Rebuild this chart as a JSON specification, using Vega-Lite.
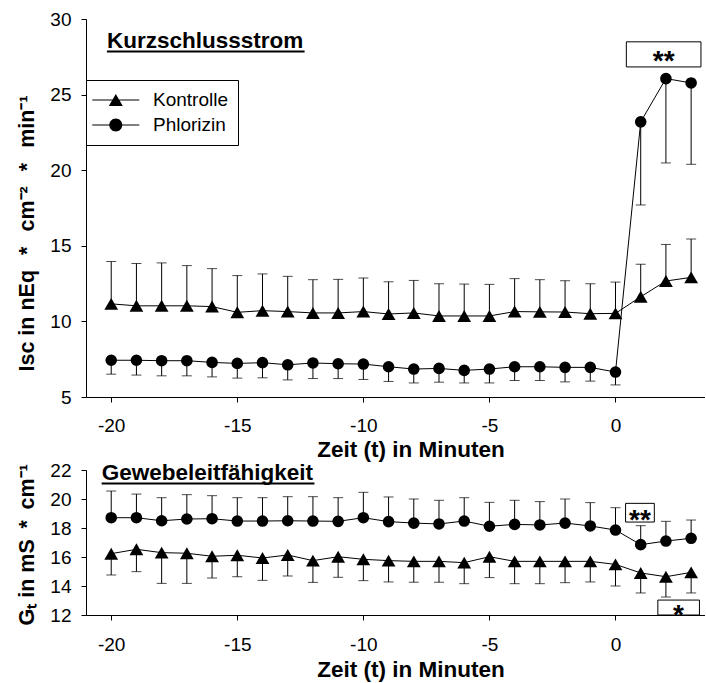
{
  "$schema": "https://vega.github.io/schema/vega-lite/v6.json",
  "background": "white",
  "padding": {"left": 16, "top": 10, "right": 0, "bottom": 0},
  "spacing": 0,
  "datasets": {
    "isc": [
      {"t": -20, "gruppe": "Kontrolle", "mw": 11.16, "ende": 13.96},
      {"t": -19, "gruppe": "Kontrolle", "mw": 11.03, "ende": 13.83},
      {"t": -18, "gruppe": "Kontrolle", "mw": 11.03, "ende": 13.87},
      {"t": -17, "gruppe": "Kontrolle", "mw": 11.03, "ende": 13.69},
      {"t": -16, "gruppe": "Kontrolle", "mw": 10.98, "ende": 13.49},
      {"t": -15, "gruppe": "Kontrolle", "mw": 10.6, "ende": 13.03},
      {"t": -14, "gruppe": "Kontrolle", "mw": 10.71, "ende": 13.14},
      {"t": -13, "gruppe": "Kontrolle", "mw": 10.65, "ende": 12.98},
      {"t": -12, "gruppe": "Kontrolle", "mw": 10.56, "ende": 12.76},
      {"t": -11, "gruppe": "Kontrolle", "mw": 10.56, "ende": 12.78},
      {"t": -10, "gruppe": "Kontrolle", "mw": 10.65, "ende": 12.87},
      {"t": -9, "gruppe": "Kontrolle", "mw": 10.49, "ende": 12.62},
      {"t": -8, "gruppe": "Kontrolle", "mw": 10.56, "ende": 12.71},
      {"t": -7, "gruppe": "Kontrolle", "mw": 10.36, "ende": 12.49},
      {"t": -6, "gruppe": "Kontrolle", "mw": 10.36, "ende": 12.47},
      {"t": -5, "gruppe": "Kontrolle", "mw": 10.36, "ende": 12.45},
      {"t": -4, "gruppe": "Kontrolle", "mw": 10.65, "ende": 12.83},
      {"t": -3, "gruppe": "Kontrolle", "mw": 10.63, "ende": 12.76},
      {"t": -2, "gruppe": "Kontrolle", "mw": 10.62, "ende": 12.69},
      {"t": -1, "gruppe": "Kontrolle", "mw": 10.51, "ende": 12.49},
      {"t": 0, "gruppe": "Kontrolle", "mw": 10.53, "ende": 12.6},
      {"t": 1, "gruppe": "Kontrolle", "mw": 11.63, "ende": 13.78},
      {"t": 2, "gruppe": "Kontrolle", "mw": 12.67, "ende": 15.09},
      {"t": 3, "gruppe": "Kontrolle", "mw": 12.91, "ende": 15.45},
      {"t": -20, "gruppe": "Phlorizin", "mw": 7.43, "ende": 6.51},
      {"t": -19, "gruppe": "Phlorizin", "mw": 7.43, "ende": 6.45},
      {"t": -18, "gruppe": "Phlorizin", "mw": 7.4, "ende": 6.4},
      {"t": -17, "gruppe": "Phlorizin", "mw": 7.4, "ende": 6.4},
      {"t": -16, "gruppe": "Phlorizin", "mw": 7.29, "ende": 6.33},
      {"t": -15, "gruppe": "Phlorizin", "mw": 7.22, "ende": 6.25},
      {"t": -14, "gruppe": "Phlorizin", "mw": 7.27, "ende": 6.27},
      {"t": -13, "gruppe": "Phlorizin", "mw": 7.13, "ende": 6.13},
      {"t": -12, "gruppe": "Phlorizin", "mw": 7.25, "ende": 6.22},
      {"t": -11, "gruppe": "Phlorizin", "mw": 7.2, "ende": 6.22},
      {"t": -10, "gruppe": "Phlorizin", "mw": 7.18, "ende": 6.16},
      {"t": -9, "gruppe": "Phlorizin", "mw": 7.0, "ende": 6.03},
      {"t": -8, "gruppe": "Phlorizin", "mw": 6.85, "ende": 5.93},
      {"t": -7, "gruppe": "Phlorizin", "mw": 6.89, "ende": 5.98},
      {"t": -6, "gruppe": "Phlorizin", "mw": 6.76, "ende": 5.93},
      {"t": -5, "gruppe": "Phlorizin", "mw": 6.85, "ende": 5.93},
      {"t": -4, "gruppe": "Phlorizin", "mw": 7.0, "ende": 6.09},
      {"t": -3, "gruppe": "Phlorizin", "mw": 7.0, "ende": 6.09},
      {"t": -2, "gruppe": "Phlorizin", "mw": 6.96, "ende": 6.0},
      {"t": -1, "gruppe": "Phlorizin", "mw": 6.96, "ende": 6.05},
      {"t": 0, "gruppe": "Phlorizin", "mw": 6.65, "ende": 5.8},
      {"t": 1, "gruppe": "Phlorizin", "mw": 23.2, "ende": 17.7},
      {"t": 2, "gruppe": "Phlorizin", "mw": 26.06, "ende": 20.48},
      {"t": 3, "gruppe": "Phlorizin", "mw": 25.77, "ende": 20.39}
    ],
    "gt": [
      {"t": -20, "gruppe": "Phlorizin", "mw": 18.71, "ende": 20.55},
      {"t": -19, "gruppe": "Phlorizin", "mw": 18.71, "ende": 20.34},
      {"t": -18, "gruppe": "Phlorizin", "mw": 18.5, "ende": 20.09},
      {"t": -17, "gruppe": "Phlorizin", "mw": 18.62, "ende": 20.3},
      {"t": -16, "gruppe": "Phlorizin", "mw": 18.64, "ende": 20.23},
      {"t": -15, "gruppe": "Phlorizin", "mw": 18.48, "ende": 20.09},
      {"t": -14, "gruppe": "Phlorizin", "mw": 18.48, "ende": 20.09},
      {"t": -13, "gruppe": "Phlorizin", "mw": 18.5, "ende": 20.16},
      {"t": -12, "gruppe": "Phlorizin", "mw": 18.48, "ende": 20.16},
      {"t": -11, "gruppe": "Phlorizin", "mw": 18.46, "ende": 20.09},
      {"t": -10, "gruppe": "Phlorizin", "mw": 18.71, "ende": 20.46},
      {"t": -9, "gruppe": "Phlorizin", "mw": 18.44, "ende": 20.14},
      {"t": -8, "gruppe": "Phlorizin", "mw": 18.34, "ende": 20.0},
      {"t": -7, "gruppe": "Phlorizin", "mw": 18.28, "ende": 19.91},
      {"t": -6, "gruppe": "Phlorizin", "mw": 18.48, "ende": 20.09},
      {"t": -5, "gruppe": "Phlorizin", "mw": 18.12, "ende": 19.77},
      {"t": -4, "gruppe": "Phlorizin", "mw": 18.25, "ende": 19.91},
      {"t": -3, "gruppe": "Phlorizin", "mw": 18.21, "ende": 19.82},
      {"t": -2, "gruppe": "Phlorizin", "mw": 18.34, "ende": 20.0},
      {"t": -1, "gruppe": "Phlorizin", "mw": 18.14, "ende": 19.75},
      {"t": 0, "gruppe": "Phlorizin", "mw": 17.86, "ende": 19.4},
      {"t": 1, "gruppe": "Phlorizin", "mw": 16.85, "ende": 18.16},
      {"t": 2, "gruppe": "Phlorizin", "mw": 17.1, "ende": 18.46},
      {"t": 3, "gruppe": "Phlorizin", "mw": 17.29, "ende": 18.55},
      {"t": -20, "gruppe": "Kontrolle", "mw": 16.23, "ende": 14.76},
      {"t": -19, "gruppe": "Kontrolle", "mw": 16.53, "ende": 14.99},
      {"t": -18, "gruppe": "Kontrolle", "mw": 16.3, "ende": 14.18},
      {"t": -17, "gruppe": "Kontrolle", "mw": 16.26, "ende": 14.18},
      {"t": -16, "gruppe": "Kontrolle", "mw": 16.05, "ende": 14.55},
      {"t": -15, "gruppe": "Kontrolle", "mw": 16.12, "ende": 14.64},
      {"t": -14, "gruppe": "Kontrolle", "mw": 15.93, "ende": 14.39},
      {"t": -13, "gruppe": "Kontrolle", "mw": 16.14, "ende": 14.69},
      {"t": -12, "gruppe": "Kontrolle", "mw": 15.75, "ende": 14.25},
      {"t": -11, "gruppe": "Kontrolle", "mw": 16.02, "ende": 14.6},
      {"t": -10, "gruppe": "Kontrolle", "mw": 15.84, "ende": 14.37},
      {"t": -9, "gruppe": "Kontrolle", "mw": 15.75, "ende": 14.28},
      {"t": -8, "gruppe": "Kontrolle", "mw": 15.7, "ende": 14.26},
      {"t": -7, "gruppe": "Kontrolle", "mw": 15.7, "ende": 14.26},
      {"t": -6, "gruppe": "Kontrolle", "mw": 15.61, "ende": 14.16},
      {"t": -5, "gruppe": "Kontrolle", "mw": 16.02, "ende": 14.58},
      {"t": -4, "gruppe": "Kontrolle", "mw": 15.7, "ende": 14.16},
      {"t": -3, "gruppe": "Kontrolle", "mw": 15.7, "ende": 14.16},
      {"t": -2, "gruppe": "Kontrolle", "mw": 15.7, "ende": 14.23},
      {"t": -1, "gruppe": "Kontrolle", "mw": 15.7, "ende": 14.28},
      {"t": 0, "gruppe": "Kontrolle", "mw": 15.49, "ende": 14.0},
      {"t": 1, "gruppe": "Kontrolle", "mw": 14.9, "ende": 13.52},
      {"t": 2, "gruppe": "Kontrolle", "mw": 14.64, "ende": 13.24},
      {"t": 3, "gruppe": "Kontrolle", "mw": 14.94, "ende": 13.52}
    ],
    "isc_titel": [
      {"t": -20.17, "t2": -12.33, "mw": 28.06, "unter": 27.85, "text": "Kurzschlussstrom"}
    ],
    "gt_titel": [
      {"t": -20.38, "t2": -11.94, "mw": 21.31, "unter": 21.07, "text": "Gewebeleitfähigkeit"}
    ],
    "isc_signifikanz": [
      {"t": 0.43, "t2": 3.39, "mw": 26.83, "ende": 28.49, "mitte_t": 1.91, "mitte": 27.66, "text": "**"}
    ],
    "gt_signifikanz": [
      {"t": 0.4, "t2": 1.54, "mw": 18.41, "ende": 19.7, "mitte_t": 0.97, "mitte": 19.05, "text": "**"},
      {"t": 1.68, "t2": 3.33, "mw": 12.0, "ende": 13.03, "mitte_t": 2.5, "mitte": 12.5, "text": "*"}
    ]
  },
  "vconcat": [
    {
      "width": 619,
      "height": 378,
      "resolve": {"scale": {"shape": "independent"}},
      "layer": [
        {
          "data": {"name": "isc"},
          "mark": {"type": "line", "color": "black", "strokeWidth": 1},
          "encoding": {
            "x": {
              "field": "t", "type": "quantitative",
              "scale": {"domain": [-21, 3.55], "nice": false, "zero": false},
              "axis": {
                "title": "Zeit (t) in Minuten",
                "values": [-20, -15, -10, -5, 0],
                "tickCount": 20,
                "format": "d",
                "labelExpr": "replace(datum.label, '\u2212', '-')",
                "labelBaseline": "alphabetic",
                "labelPadding": 29.5,
                "labelOverlap": false,
                "titleX": 324.5,
                "titleY": 59,
                "titleBaseline": "alphabetic"
              }
            },
            "y": {
              "field": "mw", "type": "quantitative",
              "scale": {"domain": [5, 30], "nice": false, "zero": false},
              "axis": {
                "title": "Isc in nEq\u2002\u2009*\u2002\u2009cm⁻²\u2002\u2009*\u2002\u2009min⁻¹",
                "values": [5, 10, 15, 20, 25, 30],
                "tickCount": 20,
                "format": "d",
                "labelPadding": 10,
                "labelOverlap": false,
                "titleFontSize": 21.5,
                "titleAngle": -90,
                "titleX": -52.7,
                "titleY": 352,
                "titleAlign": "left",
                "titleBaseline": "alphabetic"
              }
            },
            "detail": {"field": "gruppe"}
          }
        },
        {
          "data": {"name": "isc"},
          "mark": {"type": "rule", "color": "black", "strokeWidth": 1},
          "encoding": {
            "x": {"field": "t", "type": "quantitative"},
            "y": {"field": "mw", "type": "quantitative"},
            "y2": {"field": "ende"}
          }
        },
        {
          "data": {"name": "isc"},
          "mark": {"type": "tick", "orient": "horizontal", "color": "black", "size": 10, "thickness": 1},
          "encoding": {
            "x": {"field": "t", "type": "quantitative"},
            "y": {"field": "ende", "type": "quantitative"}
          }
        },
        {
          "data": {"name": "isc"},
          "mark": {"type": "point", "filled": true, "color": "black", "opacity": 1},
          "encoding": {
            "x": {"field": "t", "type": "quantitative"},
            "y": {"field": "mw", "type": "quantitative"},
            "shape": {
              "field": "gruppe", "type": "nominal",
              "scale": {"domain": ["Kontrolle", "Phlorizin"], "range": ["triangle-up", "circle"]},
              "legend": null
            },
            "size": {
              "field": "gruppe", "type": "nominal",
              "scale": {"domain": ["Kontrolle", "Phlorizin"], "range": [190, 135]},
              "legend": null
            }
          }
        },
        {
          "data": {"values": []},
          "mark": {"type": "point", "filled": true, "color": "black"},
          "encoding": {
            "x": {"field": "t", "type": "quantitative"},
            "y": {"field": "mw", "type": "quantitative"},
            "shape": {
              "field": "gruppe", "type": "nominal",
              "scale": {
                "domain": ["Kontrolle", "Phlorizin"],
                "range": [
                  "M-1.37,-0.055H3.33V0.055H-1.37ZM0.98,-0.6L1.68,0.6L0.28,0.6Z",
                  "M-1.37,-0.055H3.33V0.055H-1.37ZM1.63,0A0.65,0.65,0,1,1,0.33,0A0.65,0.65,0,1,1,1.63,0Z"
                ]
              },
              "legend": {
                "title": null,
                "orient": "none",
                "legendX": 0,
                "legendY": 61,
                "padding": 10,
                "strokeColor": "black",
                "fillColor": "white",
                "labelFontSize": 19,
                "labelFont": "Liberation Sans",
                "labelColor": "black",
                "labelOffset": 37,
                "rowPadding": 5,
                "symbolSize": 400,
                "symbolFillColor": "black",
                "symbolStrokeColor": "black",
                "symbolStrokeWidth": 0,
                "symbolOpacity": 1
              }
            }
          }
        },
        {
          "data": {"name": "isc_signifikanz"},
          "mark": {"type": "rect", "fill": "white", "stroke": "black", "strokeWidth": 1},
          "encoding": {
            "x": {"field": "t", "type": "quantitative"},
            "x2": {"field": "t2"},
            "y": {"field": "mw", "type": "quantitative"},
            "y2": {"field": "ende"}
          }
        },
        {
          "data": {"name": "isc_signifikanz"},
          "mark": {"type": "text", "font": "Liberation Sans", "fontWeight": "bold", "fontSize": 28, "color": "black", "baseline": "middle", "align": "center", "dy": 8},
          "encoding": {
            "x": {"field": "mitte_t", "type": "quantitative"},
            "y": {"field": "mitte", "type": "quantitative"},
            "text": {"field": "text"}
          }
        },
        {
          "data": {"name": "isc_titel"},
          "mark": {"type": "text", "font": "Liberation Sans", "fontWeight": "bold", "fontSize": 22.5, "color": "black", "align": "left", "baseline": "alphabetic"},
          "encoding": {
            "x": {"field": "t", "type": "quantitative"},
            "y": {"field": "mw", "type": "quantitative"},
            "text": {"field": "text"}
          }
        },
        {
          "data": {"name": "isc_titel"},
          "mark": {"type": "rule", "color": "black", "strokeWidth": 2},
          "encoding": {
            "x": {"field": "t", "type": "quantitative"},
            "x2": {"field": "t2"},
            "y": {"field": "unter", "type": "quantitative"}
          }
        }
      ]
    },
    {
      "width": 619,
      "height": 145,
      "layer": [
        {
          "data": {"name": "gt"},
          "mark": {"type": "line", "color": "black", "strokeWidth": 1},
          "encoding": {
            "x": {
              "field": "t", "type": "quantitative",
              "scale": {"domain": [-21, 3.55], "nice": false, "zero": false},
              "axis": {
                "title": "Zeit (t) in Minuten",
                "values": [-20, -15, -10, -5, 0],
                "tickCount": 20,
                "format": "d",
                "labelExpr": "replace(datum.label, '\u2212', '-')",
                "labelBaseline": "alphabetic",
                "labelPadding": 30,
                "labelOverlap": false,
                "titleX": 324.5,
                "titleY": 61.7,
                "titleBaseline": "alphabetic"
              }
            },
            "y": {
              "field": "mw", "type": "quantitative",
              "scale": {"domain": [12, 22], "nice": false, "zero": false},
              "axis": {
                "title": "Gₜ in mS\u2002*\u2002cm⁻¹",
                "values": [12, 14, 16, 18, 20, 22],
                "tickCount": 20,
                "format": "d",
                "labelPadding": 10,
                "labelOverlap": false,
                "titleFontSize": 21.5,
                "titleAngle": -90,
                "titleX": -52.5,
                "titleY": 155,
                "titleAlign": "left",
                "titleBaseline": "alphabetic"
              }
            },
            "detail": {"field": "gruppe"}
          }
        },
        {
          "data": {"name": "gt"},
          "mark": {"type": "rule", "color": "black", "strokeWidth": 1},
          "encoding": {
            "x": {"field": "t", "type": "quantitative"},
            "y": {"field": "mw", "type": "quantitative"},
            "y2": {"field": "ende"}
          }
        },
        {
          "data": {"name": "gt"},
          "mark": {"type": "tick", "orient": "horizontal", "color": "black", "size": 10, "thickness": 1},
          "encoding": {
            "x": {"field": "t", "type": "quantitative"},
            "y": {"field": "ende", "type": "quantitative"}
          }
        },
        {
          "data": {"name": "gt"},
          "mark": {"type": "point", "filled": true, "color": "black", "opacity": 1},
          "encoding": {
            "x": {"field": "t", "type": "quantitative"},
            "y": {"field": "mw", "type": "quantitative"},
            "shape": {
              "field": "gruppe", "type": "nominal",
              "scale": {"domain": ["Kontrolle", "Phlorizin"], "range": ["triangle-up", "circle"]},
              "legend": null
            },
            "size": {
              "field": "gruppe", "type": "nominal",
              "scale": {"domain": ["Kontrolle", "Phlorizin"], "range": [190, 135]},
              "legend": null
            }
          }
        },
        {
          "data": {"name": "gt_signifikanz"},
          "mark": {"type": "rect", "fill": "white", "stroke": "black", "strokeWidth": 1},
          "encoding": {
            "x": {"field": "t", "type": "quantitative"},
            "x2": {"field": "t2"},
            "y": {"field": "mw", "type": "quantitative"},
            "y2": {"field": "ende"}
          }
        },
        {
          "data": {"name": "gt_signifikanz"},
          "mark": {"type": "text", "font": "Liberation Sans", "fontWeight": "bold", "fontSize": 28, "color": "black", "baseline": "middle", "align": "center", "dy": 8},
          "encoding": {
            "x": {"field": "mitte_t", "type": "quantitative"},
            "y": {"field": "mitte", "type": "quantitative"},
            "text": {"field": "text"}
          }
        },
        {
          "data": {"name": "gt_titel"},
          "mark": {"type": "text", "font": "Liberation Sans", "fontWeight": "bold", "fontSize": 22.5, "color": "black", "align": "left", "baseline": "alphabetic"},
          "encoding": {
            "x": {"field": "t", "type": "quantitative"},
            "y": {"field": "mw", "type": "quantitative"},
            "text": {"field": "text"}
          }
        },
        {
          "data": {"name": "gt_titel"},
          "mark": {"type": "rule", "color": "black", "strokeWidth": 2},
          "encoding": {
            "x": {"field": "t", "type": "quantitative"},
            "x2": {"field": "t2"},
            "y": {"field": "unter", "type": "quantitative"}
          }
        }
      ]
    }
  ],
  "config": {
    "font": "Liberation Sans",
    "view": {"stroke": null},
    "axis": {
      "grid": false,
      "domainColor": "black",
      "domainWidth": 1,
      "tickColor": "black",
      "tickSize": 5,
      "labelColor": "black",
      "labelFont": "Liberation Sans",
      "labelFontSize": 19,
      "labelOverlap": false,
      "titleColor": "black",
      "titleFont": "Liberation Sans",
      "titleFontSize": 22.5,
      "titleFontWeight": "bold"
    }
  }
}
